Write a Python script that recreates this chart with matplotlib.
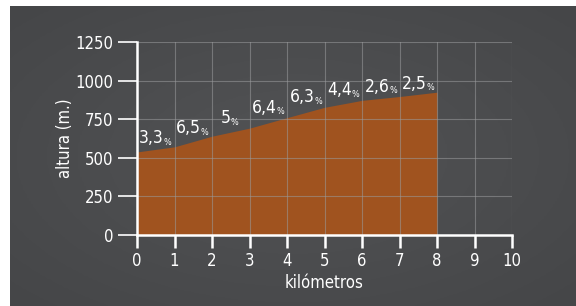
import numpy as np
import matplotlib
matplotlib.use("Agg")
import matplotlib.pyplot as plt

# perfil de altura
km = [0, 1, 2, 3, 4, 5, 6, 7, 8]
altura = [538, 571, 640, 692, 760, 827, 872, 897, 925]

# pendientes por tramo
pend = ['3,3', '6,5', '5', '6,4', '6,3', '4,4', '2,6', '2,5']
pend_x = [0.39, 1.37, 2.37, 3.4, 4.41, 5.4, 6.4, 7.4]
pend_y = [568, 633, 698, 763, 833, 878, 903, 920]

xticks = [0, 1, 2, 3, 4, 5, 6, 7, 8, 9, 10]
yticks = [0, 250, 500, 750, 1000, 1250]

plt.rcParams['font.family'] = ['DejaVu Sans']
plt.rcParams['font.stretch'] = 'condensed'

fig = plt.figure(figsize=(5.76, 3.06), dpi=100)
fig.patch.set_facecolor('white')

# fondo gris con degradado suave
bg = fig.add_axes([10/576, 0, 566/576, 300/306])
yy, xx = np.mgrid[-1:1:200j, -1:1:300j]
r = np.sqrt(xx**2 + yy**2)
bg.imshow(-r, cmap=matplotlib.colors.LinearSegmentedColormap.from_list(
    'g', ['#454648', '#525355']), aspect='auto', extent=[0, 1, 0, 1])
bg.set_axis_off()

ax = fig.add_axes([137/576, 71/306, 375/576, 193/306])
ax.set_facecolor('none')
ax.fill_between(km, altura, 0, color='#a0531f', lw=0, zorder=1)

ax.set_xlim(0, 10)
ax.set_ylim(0, 1250)
ax.set_xticks(xticks)
ax.set_yticks(yticks)
ax.grid(True, color='#9a9b9d', lw=0.8, alpha=0.55, zorder=2)
ax.set_axisbelow(False)

for s in ['top', 'right']:
    ax.spines[s].set_visible(False)
for s in ['left', 'bottom']:
    ax.spines[s].set_color('white')
    ax.spines[s].set_linewidth(1.8)
    ax.spines[s].set_zorder(5)

ax.tick_params(axis='y', length=14, width=1.2, color='white', labelcolor='white',
               labelsize=12, pad=3)
ax.tick_params(axis='x', length=9, width=1.8, color='white', labelcolor='white',
               labelsize=12, pad=3)

ax.set_ylabel('altura (m.)', color='white', fontsize=12, labelpad=1)
ax.set_xlabel('kilómetros', color='white', fontsize=12, labelpad=3)

for t, x, y in zip(pend, pend_x, pend_y):
    txt = ax.text(x, y, t, color='white', fontsize=12.5, ha='center',
                  va='bottom', zorder=6)
    ax.annotate('%', xy=(1, 0), xycoords=txt, xytext=(0, 0.5),
                textcoords='offset points', color='white', fontsize=6.5,
                ha='left', va='bottom', zorder=6)

fig.savefig('out.png', dpi=100)
